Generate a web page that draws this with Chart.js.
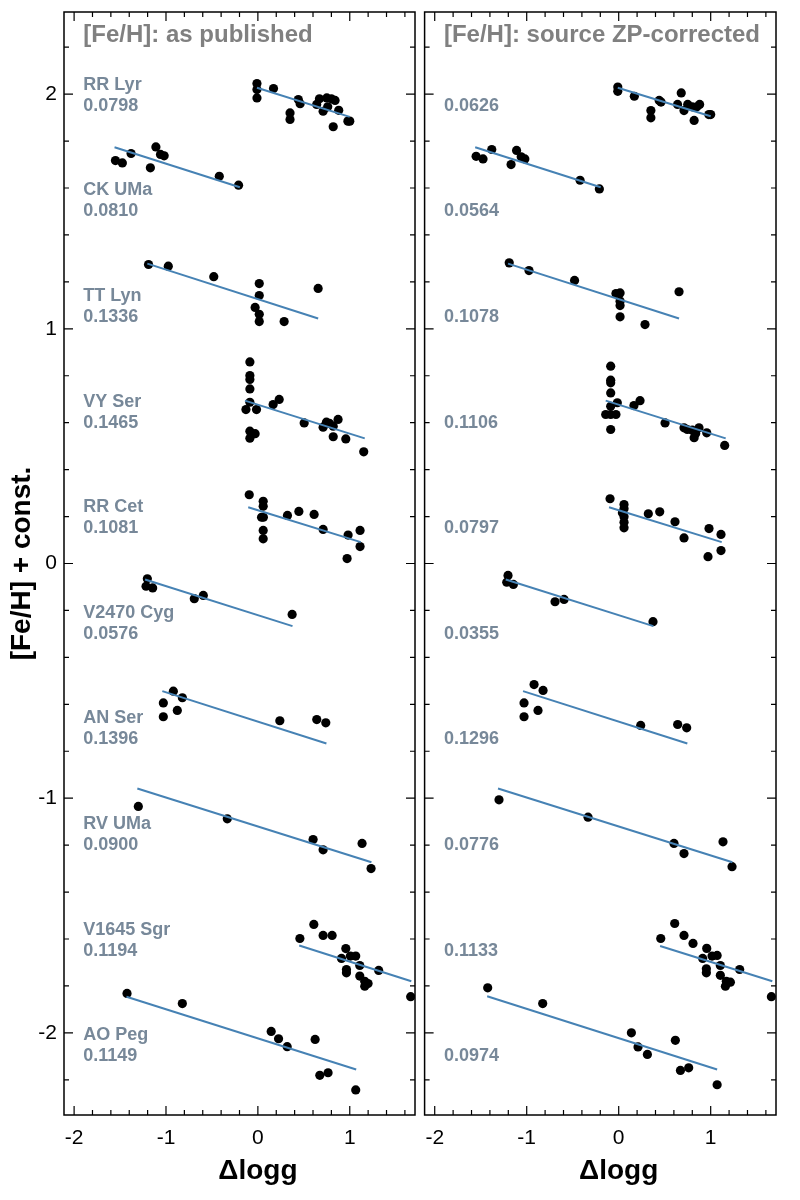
<!DOCTYPE html>
<html>
<head>
<meta charset="utf-8">
<script src="https://cdn.jsdelivr.net/npm/chart.js@4.4.1/dist/chart.umd.min.js"></script>
<style>
  html, body { margin: 0; padding: 0; background: #fff; }
  #wrap { position: relative; width: 800px; height: 1200px; }
  canvas { position: absolute; top: 0; }
</style>
</head>
<body>
<div id="wrap">
  <canvas id="cPub" width="420" height="1200" style="left:0"></canvas>
  <canvas id="cCor" width="380" height="1200" style="left:420px"></canvas>
</div>
<script>
// star names and scatter (dex) of each fit
const starNames = ["RR Lyr", "CK UMa", "TT Lyn", "VY Ser", "RR Cet", "V2470 Cyg", "AN Ser", "RV UMa", "V1645 Sgr", "AO Peg"];
const sigmaPub = ["0.0798", "0.0810", "0.1336", "0.1465", "0.1081", "0.0576", "0.1396", "0.0900", "0.1194", "0.1149"];
const sigmaCor = ["0.0626", "0.0564", "0.1078", "0.1106", "0.0797", "0.0355", "0.1296", "0.0776", "0.1133", "0.0974"];

const xTicks = [-2, -1, 0, 1];
const yTicks = [-2, -1, 0, 1, 2];

// [dlogg, [Fe/H]+const] as published
const rrLyrPub = [[-0.01,2.045],[-0.01,2.02],[-0.01,1.984],[0.17,2.024],[0.44,1.977],[0.46,1.959],[0.35,1.92],[0.35,1.892],[0.64,1.956],[0.67,1.98],[0.71,1.927],[0.75,1.984],[0.76,1.946],[0.80,1.98],[0.84,1.973],[0.82,1.861],[0.88,1.931],[0.98,1.885],[1.0,1.885]];
const ckUmaPub = [[-1.55,1.717],[-1.475,1.707],[-1.38,1.747],[-1.17,1.686],[-1.11,1.775],[-1.06,1.743],[-1.02,1.737],[-0.42,1.65],[-0.21,1.612]];
const ttLynPub = [[-1.19,1.274],[-0.975,1.267],[-0.48,1.222],[0.015,1.193],[0.015,1.142],[-0.03,1.091],[0.015,1.062],[0.015,1.031],[0.286,1.031],[0.656,1.172]];
const vySerPub = [[-0.087,0.859],[-0.087,0.801],[-0.087,0.784],[-0.087,0.744],[-0.087,0.687],[-0.13,0.656],[-0.015,0.656],[0.166,0.677],[0.232,0.699],[-0.087,0.564],[-0.03,0.553],[-0.087,0.534],[0.504,0.599],[0.71,0.581],[0.746,0.602],[0.78,0.597],[0.82,0.585],[0.873,0.614],[0.82,0.54],[0.957,0.531],[1.152,0.476]];
const rrCetPub = [[-0.094,0.293],[0.058,0.265],[0.058,0.244],[0.04,0.197],[0.06,0.197],[0.058,0.141],[0.058,0.105],[0.322,0.205],[0.446,0.222],[0.612,0.209],[0.71,0.145],[0.982,0.121],[0.971,0.021],[1.112,0.141],[1.112,0.072]];
const v2470CygPub = [[-1.203,-0.065],[-1.217,-0.097],[-1.145,-0.104],[-0.692,-0.15],[-0.594,-0.136],[0.373,-0.217]];
const anSerPub = [[-0.92,-0.544],[-1.029,-0.594],[-0.822,-0.572],[-0.877,-0.626],[-1.029,-0.653],[0.239,-0.67],[0.641,-0.665],[0.739,-0.679]];
const rvUmaPub = [[-1.301,-1.035],[-0.333,-1.088],[0.601,-1.176],[0.71,-1.22],[1.134,-1.193],[1.232,-1.30]];
const v1645SgrPub = [[0.609,-1.538],[0.457,-1.598],[0.71,-1.585],[0.808,-1.585],[0.957,-1.641],[0.91,-1.683],[1.007,-1.673],[1.065,-1.673],[1.109,-1.713],[0.964,-1.73],[0.964,-1.744],[1.109,-1.758],[1.163,-1.78],[1.199,-1.79],[1.163,-1.801],[1.315,-1.734],[1.663,-1.846]];
const aoPegPub = [[-1.424,-1.832],[-0.822,-1.875],[0.145,-1.994],[0.225,-2.025],[0.319,-2.059],[0.623,-2.028],[0.674,-2.181],[0.764,-2.17],[1.065,-2.243]];

// same stars, source zero-point corrected
const rrLyrCor = [[-0.01,2.03],[-0.01,2.012],[0.17,1.991],[0.44,1.973],[0.46,1.966],[0.35,1.93],[0.35,1.899],[0.64,1.956],[0.68,2.005],[0.71,1.93],[0.75,1.956],[0.80,1.946],[0.85,1.946],[0.88,1.956],[0.82,1.888],[0.98,1.913],[1.0,1.913]];
const ckUmaCor = [[-1.55,1.735],[-1.475,1.724],[-1.38,1.764],[-1.17,1.70],[-1.11,1.76],[-1.06,1.733],[-1.02,1.724],[-0.42,1.633],[-0.21,1.596]];
const ttLynCor = [[-1.19,1.281],[-0.975,1.248],[-0.48,1.206],[-0.03,1.15],[0.015,1.153],[0.015,1.118],[0.015,1.099],[0.015,1.051],[0.286,1.018],[0.656,1.158]];
const vySerCor = [[-0.087,0.841],[-0.087,0.781],[-0.087,0.77],[-0.087,0.727],[-0.015,0.685],[-0.087,0.67],[-0.141,0.635],[-0.087,0.635],[-0.03,0.635],[-0.087,0.571],[0.166,0.673],[0.232,0.694],[0.504,0.599],[0.71,0.578],[0.746,0.571],[0.80,0.568],[0.873,0.578],[0.82,0.536],[0.837,0.554],[0.957,0.557],[1.152,0.503]];
const rrCetCor = [[-0.094,0.276],[0.058,0.251],[0.058,0.233],[0.04,0.216],[0.058,0.199],[0.058,0.176],[0.058,0.152],[0.322,0.212],[0.446,0.22],[0.612,0.178],[0.71,0.109],[0.982,0.149],[0.971,0.029],[1.112,0.124],[1.112,0.055]];
const v2470CygCor = [[-1.203,-0.051],[-1.217,-0.08],[-1.145,-0.089],[-0.692,-0.163],[-0.594,-0.153],[0.373,-0.248]];
const anSerCor = [[-0.92,-0.516],[-0.822,-0.541],[-1.029,-0.594],[-0.877,-0.626],[-1.029,-0.653],[0.239,-0.69],[0.641,-0.686],[0.739,-0.70]];
const rvUmaCor = [[-1.301,-1.007],[-0.333,-1.081],[0.601,-1.193],[0.71,-1.236],[1.134,-1.186],[1.232,-1.292]];
const v1645SgrCor = [[0.609,-1.534],[0.457,-1.598],[0.71,-1.585],[0.808,-1.619],[0.957,-1.64],[0.913,-1.683],[1.015,-1.673],[1.07,-1.67],[1.105,-1.713],[0.953,-1.727],[0.953,-1.744],[1.105,-1.755],[1.17,-1.78],[1.214,-1.784],[1.16,-1.801],[1.315,-1.73],[1.66,-1.846]];
const aoPegCor = [[-1.424,-1.808],[-0.826,-1.875],[0.138,-2.0],[0.21,-2.06],[0.312,-2.092],[0.616,-2.032],[0.671,-2.16],[0.761,-2.149],[1.07,-2.221]];

// linear fits: start/end dlogg and the fitted values at those ends
const fitX0 = [-0.01, -1.56, -1.203, -0.141, -0.105, -1.228, -1.04, -1.312, 0.45, -1.43];
const fitX1 = [1.0, -0.196, 0.656, 1.163, 1.12, 0.377, 0.746, 1.236, 1.67, 1.07];
const fitPub0 = [2.027, 1.774, 1.278, 0.694, 0.24, -0.068, -0.544, -0.959, -1.628, -1.846];
const fitPub1 = [1.903, 1.603, 1.044, 0.533, 0.091, -0.267, -0.767, -1.273, -1.78, -2.156];
const fitCor0 = [2.027, 1.774, 1.278, 0.694, 0.24, -0.068, -0.544, -0.959, -1.63, -1.844];
const fitCor1 = [1.906, 1.603, 1.044, 0.533, 0.091, -0.267, -0.767, -1.273, -1.78, -2.156];

const pubStars = [rrLyrPub, ckUmaPub, ttLynPub, vySerPub, rrCetPub, v2470CygPub, anSerPub, rvUmaPub, v1645SgrPub, aoPegPub];
const corStars = [rrLyrCor, ckUmaCor, ttLynCor, vySerCor, rrCetCor, v2470CygCor, anSerCor, rvUmaCor, v1645SgrCor, aoPegCor];

const FONT = "'Liberation Sans', Helvetica, Arial, sans-serif";
const LABEL_GREY = "#778899";

// box, inward ticks on all four sides, panel texts
const panelDeco = {
  id: "panelDeco",
  afterDraw(chart, args, o) {
    const { ctx, chartArea: a, scales: { x, y } } = chart;
    ctx.save();
    ctx.strokeStyle = "#000";
    ctx.lineWidth = 1.5;
    ctx.strokeRect(a.left, a.top, a.right - a.left, a.bottom - a.top);
    ctx.lineWidth = 1.2;
    ctx.beginPath();
    for (let k = -10; k <= 8; k++) {
      const px = x.getPixelForValue(k / 5);
      const len = k % 5 === 0 ? 9 : 5;
      ctx.moveTo(px, a.bottom); ctx.lineTo(px, a.bottom - len);
      ctx.moveTo(px, a.top); ctx.lineTo(px, a.top + len);
    }
    for (let k = -11; k <= 11; k++) {
      const py = y.getPixelForValue(k / 5);
      const len = k % 5 === 0 ? 9 : 5;
      ctx.moveTo(a.left, py); ctx.lineTo(a.left + len, py);
      ctx.moveTo(a.right, py); ctx.lineTo(a.right - len, py);
    }
    ctx.stroke();

    const tx = x.getPixelForValue(-1.9);
    ctx.textAlign = "left";
    ctx.textBaseline = "middle";
    ctx.fillStyle = "#808080";
    ctx.font = "bold 24px " + FONT;
    ctx.fillText(o.title, tx, y.getPixelForValue(2.25));

    ctx.fillStyle = LABEL_GREY;
    ctx.font = "bold 18px " + FONT;
    o.sigmas.forEach((s, i) => {
      const yn = 2.04 - 0.45 * i;
      if (o.names) ctx.fillText(o.names[i], tx, y.getPixelForValue(yn));
      ctx.fillText(s, tx, y.getPixelForValue(yn - 0.09));
    });

    ctx.fillStyle = "#000";
    ctx.textAlign = "center";
    ctx.font = "bold 28px " + FONT;
    ctx.fillText("\u0394logg", x.getPixelForValue(0), 1171);
    ctx.restore();
  }
};

function makePanel(id, stars, fit0, fit1, opts) {
  const datasets = [];
  stars.forEach((pts, i) => {
    datasets.push({
      type: "line",
      data: [{ x: fitX0[i], y: fit0[i] }, { x: fitX1[i], y: fit1[i] }],
      borderColor: "#4682b4",
      borderWidth: 2,
      pointRadius: 0,
      fill: false,
      order: 0,
    });
    datasets.push({
      type: "scatter",
      data: pts.map((p) => ({ x: p[0], y: p[1] })),
      backgroundColor: "#000",
      borderWidth: 0,
      pointRadius: 4.6,
      order: 1,
    });
  });

  return new Chart(document.getElementById(id), {
    type: "scatter",
    data: { datasets },
    options: {
      responsive: false,
      animation: false,
      devicePixelRatio: 1,
      layout: { padding: opts.padding },
      plugins: {
        legend: { display: false },
        tooltip: { enabled: false },
        panelDeco: opts,
      },
      scales: {
        x: {
          type: "linear",
          min: -2.11,
          max: 1.71,
          afterBuildTicks: (s) => { s.ticks = xTicks.map((v) => ({ value: v })); },
          afterFit: (s) => { s.height = 85; s.paddingLeft = 0; s.paddingRight = 0; },
          grid: { display: false, drawTicks: false },
          border: { display: false },
          ticks: { color: "#000", padding: 11, font: { family: FONT, size: 21 } },
        },
        y: {
          type: "linear",
          min: -2.35,
          max: 2.35,
          display: opts.yAxis,
          afterBuildTicks: (s) => { s.ticks = yTicks.map((v) => ({ value: v })); },
          afterFit: (s) => { s.width = opts.yAxis ? 64 : 0; s.paddingTop = 0; s.paddingBottom = 0; },
          grid: { display: false, drawTicks: false },
          border: { display: false },
          ticks: { color: "#000", padding: 7, font: { family: FONT, size: 21 } },
          title: {
            display: true,
            text: "[Fe/H] + const.",
            color: "#000",
            padding: { top: 5, bottom: 0 },
            font: { family: FONT, size: 28, weight: "bold" },
          },
        },
      },
    },
    plugins: [panelDeco],
  });
}

makePanel("cPub", pubStars, fitPub0, fitPub1, {
  title: "[Fe/H]: as published",
  names: starNames,
  sigmas: sigmaPub,
  yAxis: true,
  padding: { top: 12, right: 5, left: 0, bottom: 0 },
});

makePanel("cCor", corStars, fitCor0, fitCor1, {
  title: "[Fe/H]: source ZP-corrected",
  names: null,
  sigmas: sigmaCor,
  yAxis: false,
  padding: { top: 12, right: 24, left: 4, bottom: 0 },
});
</script>
</body>
</html>
